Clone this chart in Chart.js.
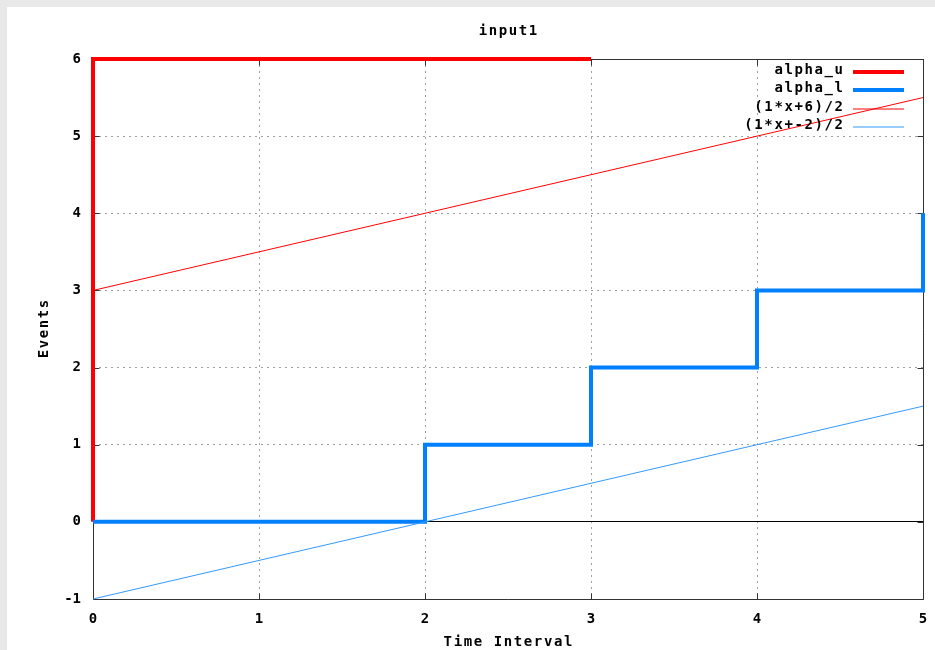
<!DOCTYPE html>
<html><head><meta charset="utf-8">
<script src="https://cdn.jsdelivr.net/npm/chart.js@4.4.1/dist/chart.umd.min.js"></script>
<style>
html,body{margin:0;padding:0;background:#e8e8e8;width:935px;height:650px;overflow:hidden}
#c{position:absolute;left:7px;top:7px;background:#fff}
</style></head><body>
<canvas id="c" width="928" height="643"></canvas>
<script>
// ---- data ----
const chartTitle = 'input1';
const xTitle = 'Time Interval';
const yTitle = 'Events';
const xTicks = [0, 1, 2, 3, 4, 5];
const yTicks = [-1, 0, 1, 2, 3, 4, 5, 6];
const seriesNames = ['alpha_u', 'alpha_l', '(1*x+6)/2', '(1*x+-2)/2'];
const alphaUx = [0, 0, 3];
const alphaUy = [0, 6, 6];
const alphaLx = [0, 2, 2, 3, 3, 4, 4, 5, 5];
const alphaLy = [0, 0, 1, 1, 2, 2, 3, 3, 4];
const upperX = [0, 5];
const upperY = [3, 5.5];
const lowerX = [0, 5];
const lowerY = [-1, 1.5];

const RED = '#ff0000', BLUE = '#0080ff', BLUE_THIN = '#3399ff';
const FONT = '"DejaVu Sans Mono", "Liberation Mono", monospace';
const pts = (xs, ys) => xs.map((x, i) => ({x, y: ys[i]}));

const seriesStyles = [
  {color: RED, width: 4},
  {color: BLUE, width: 4},
  {color: RED, width: 1},
  {color: BLUE_THIN, width: 1}
];

const decor = {
  id: 'decor',
  beforeDatasetsDraw(chart) {
    const {ctx, chartArea: a, scales: {x, y}} = chart;
    ctx.save();
    ctx.strokeStyle = '#333';
    ctx.lineWidth = 1;
    ctx.beginPath();
    const L = Math.round(a.left) + 0.5, R = Math.round(a.right) + 0.5;
    const T = Math.round(a.top) + 0.5, B = Math.round(a.bottom) + 0.5;
    ctx.rect(L, T, R - L, B - T);
    const tl = 6;
    xTicks.forEach(v => {
      const px = Math.round(x.getPixelForValue(v)) + 0.5;
      ctx.moveTo(px, B); ctx.lineTo(px, B - tl);
      ctx.moveTo(px, T); ctx.lineTo(px, T + tl);
    });
    yTicks.forEach(v => {
      const py = Math.round(y.getPixelForValue(v)) + 0.5;
      ctx.moveTo(L, py); ctx.lineTo(L + tl, py);
      ctx.moveTo(R, py); ctx.lineTo(R - tl, py);
    });
    ctx.stroke();
    ctx.restore();
  },
  afterDraw(chart) {
    const {ctx, chartArea: a} = chart;
    ctx.save();
    ctx.fillStyle = '#000';
    ctx.font = 'bold 14px ' + FONT;
    ctx.letterSpacing = '1.6px';
    ctx.textBaseline = 'middle';
    const drawCentered = (t, cx, cy) => {
      const w = ctx.measureText(t).width - 1.6;
      ctx.textAlign = 'left';
      ctx.fillText(t, cx - w / 2, cy);
    };
    drawCentered(chartTitle, (a.left + a.right) / 2, 24);
    drawCentered(xTitle, (a.left + a.right) / 2, 635);
    ctx.save();
    ctx.translate(37, (a.top + a.bottom) / 2);
    ctx.rotate(-Math.PI / 2);
    drawCentered(yTitle, 0, 0);
    ctx.restore();
    // legend
    const rows = [63, 81, 100, 118];
    seriesNames.forEach((n, i) => {
      const w = ctx.measureText(n).width - 1.6;
      ctx.fillStyle = '#000';
      ctx.textAlign = 'left';
      ctx.fillText(n, 836 - w, rows[i]);
      ctx.strokeStyle = seriesStyles[i].color;
      ctx.lineWidth = seriesStyles[i].width;
      ctx.beginPath();
      const ly = rows[i] + 2;
      ctx.moveTo(846, ly); ctx.lineTo(897, ly);
      ctx.stroke();
    });
    ctx.restore();
  }
};

const ds = (i, data, order) => ({
  label: seriesNames[i], data, showLine: true, fill: false,
  borderColor: seriesStyles[i].color, backgroundColor: seriesStyles[i].color,
  borderWidth: seriesStyles[i].width, pointRadius: 0, tension: 0, order,
  borderCapStyle: 'butt', borderJoinStyle: 'miter', clip: 4
});

const gridDash = c => (c.tick && c.tick.value === 0) ? [] : [2, 4];

new Chart(document.getElementById('c'), {
  type: 'scatter',
  data: {
    datasets: [
      ds(0, pts(alphaUx, alphaUy), 3),
      ds(1, pts(alphaLx, alphaLy), 2),
      ds(2, pts(upperX, upperY), 1),
      ds(3, pts(lowerX, lowerY), 0)
    ]
  },
  options: {
    responsive: false,
    animation: false,
    devicePixelRatio: 1,
    layout: {padding: {left: 0, right: 12, top: 52, bottom: 0}},
    plugins: {legend: {display: false}, tooltip: {enabled: false}, title: {display: false}},
    scales: {
      x: {
        type: 'linear', min: 0, max: 5,
        afterBuildTicks: s => { s.ticks = xTicks.map(v => ({value: v})); },
        afterFit: s => { s.height = 51; s.paddingLeft = 0; s.paddingRight = 0; },
        border: {display: false, dash: [2, 4]},
        grid: {drawTicks: false, color: '#a0a0a0', lineWidth: 1},
        ticks: {color: '#000', font: {family: FONT, size: 14, weight: 'bold'}, padding: 12, maxRotation: 0}
      },
      y: {
        type: 'linear', min: -1, max: 6,
        afterBuildTicks: s => { s.ticks = yTicks.map(v => ({value: v})); },
        afterFit: s => { s.width = 86; s.paddingTop = 0; s.paddingBottom = 0; },
        border: {display: false, dash: gridDash},
        grid: {
          drawTicks: false, lineWidth: 1,
          color: c => (c.tick && c.tick.value === 0) ? '#000' : '#a0a0a0'
        },
        ticks: {color: '#000', font: {family: FONT, size: 14, weight: 'bold'}, padding: 12}
      }
    }
  },
  plugins: [decor]
});
</script>
</body></html>
